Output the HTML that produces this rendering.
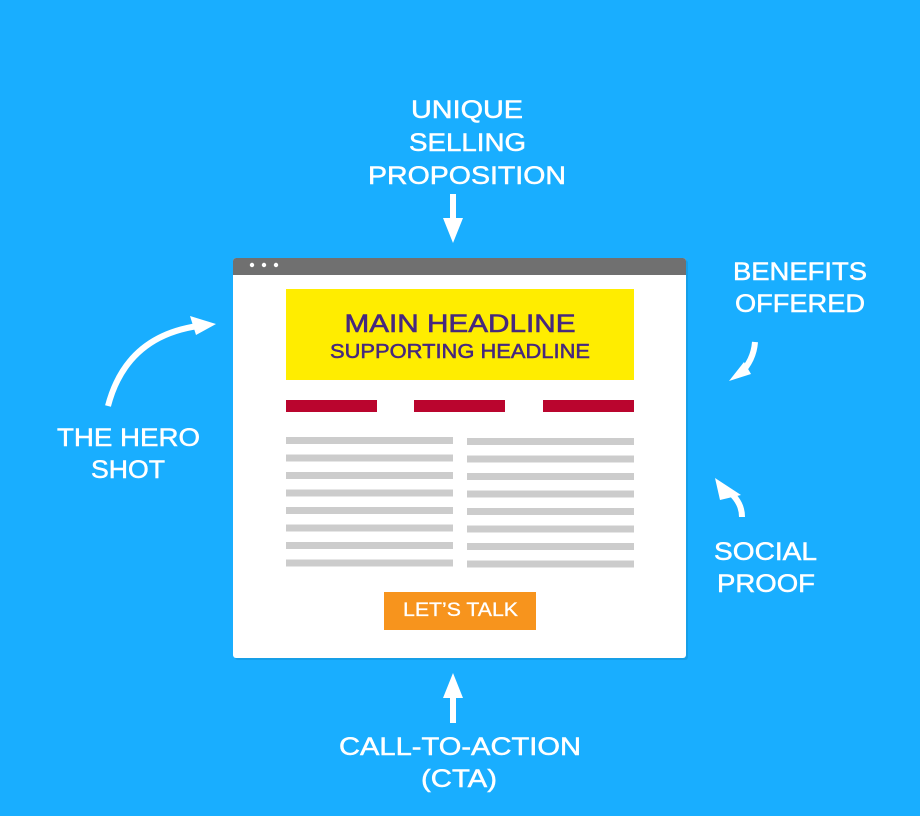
<!DOCTYPE html>
<html><head><meta charset="utf-8"><style>
html,body{margin:0;padding:0;background:#19AEFF;}
svg{display:block}
</style></head><body>
<svg width="920" height="816" viewBox="0 0 920 816" xmlns="http://www.w3.org/2000/svg" font-family="Liberation Sans, sans-serif">
<rect width="920" height="816" fill="#19AEFF"/>
<!-- browser -->
<rect x="235" y="260" width="453" height="400" rx="3" fill="#1590d0" opacity="0.5"/>
<rect x="233" y="258" width="453" height="400" rx="3" fill="#ffffff"/>
<path d="M233 275 V261 a3 3 0 0 1 3 -3 H683 a3 3 0 0 1 3 3 V275 Z" fill="#707070"/>
<circle cx="252" cy="265" r="2.2" fill="#fff"/>
<circle cx="264" cy="265" r="2.2" fill="#fff"/>
<circle cx="276" cy="265" r="2.2" fill="#fff"/>
<rect x="286" y="289" width="348" height="91" fill="#FFED00"/>
<g fill="#46287E" font-weight="bold" text-anchor="middle">
<text x="460" y="332" font-size="25" textLength="231" lengthAdjust="spacingAndGlyphs" font-weight="normal" stroke="#46287E" stroke-width="0.6">MAIN HEADLINE</text>
<text x="460" y="358" font-size="20" textLength="260" lengthAdjust="spacingAndGlyphs" font-weight="normal" stroke="#46287E" stroke-width="0.5">SUPPORTING HEADLINE</text>
</g>
<g fill="#BA052E">
<rect x="286" y="400" width="91" height="12"/>
<rect x="414" y="400" width="91" height="12"/>
<rect x="543" y="400" width="91" height="12"/>
</g>
<g fill="#CCCCCC">
<rect x="286" y="437" width="167" height="7"/><rect x="467" y="438" width="167" height="7"/>
<rect x="286" y="454.5" width="167" height="7"/><rect x="467" y="455.5" width="167" height="7"/>
<rect x="286" y="472" width="167" height="7"/><rect x="467" y="473" width="167" height="7"/>
<rect x="286" y="489.5" width="167" height="7"/><rect x="467" y="490.5" width="167" height="7"/>
<rect x="286" y="507" width="167" height="7"/><rect x="467" y="508" width="167" height="7"/>
<rect x="286" y="524.5" width="167" height="7"/><rect x="467" y="525.5" width="167" height="7"/>
<rect x="286" y="542" width="167" height="7"/><rect x="467" y="543" width="167" height="7"/>
<rect x="286" y="559.5" width="167" height="7"/><rect x="467" y="560.5" width="167" height="7"/>
</g>
<rect x="384" y="592" width="152" height="38" fill="#F7941D"/>
<text x="460.5" y="616" font-size="19" fill="#fff" text-anchor="middle" textLength="115" lengthAdjust="spacingAndGlyphs" stroke="#fff" stroke-width="0.3">LET’S TALK</text>
<!-- labels -->
<g fill="#fff" font-size="25" text-anchor="middle" stroke="#fff" stroke-width="0.5">
<text x="467" y="118" textLength="112" lengthAdjust="spacingAndGlyphs">UNIQUE</text>
<text x="467.5" y="151" textLength="117" lengthAdjust="spacingAndGlyphs">SELLING</text>
<text x="467" y="184" textLength="198" lengthAdjust="spacingAndGlyphs">PROPOSITION</text>
<text x="800" y="280" textLength="134" lengthAdjust="spacingAndGlyphs">BENEFITS</text>
<text x="800" y="312" textLength="130" lengthAdjust="spacingAndGlyphs">OFFERED</text>
<text x="128.5" y="446" textLength="143" lengthAdjust="spacingAndGlyphs">THE HERO</text>
<text x="128" y="478" textLength="74" lengthAdjust="spacingAndGlyphs">SHOT</text>
<text x="765.5" y="560" textLength="103" lengthAdjust="spacingAndGlyphs">SOCIAL</text>
<text x="766" y="592" textLength="98" lengthAdjust="spacingAndGlyphs">PROOF</text>
<text x="460" y="755" textLength="242" lengthAdjust="spacingAndGlyphs">CALL-TO-ACTION</text>
<text x="459" y="787" textLength="76" lengthAdjust="spacingAndGlyphs">(CTA)</text>
</g>
<!-- arrows -->
<g fill="#fff">
<rect x="450" y="194" width="6" height="28"/>
<polygon points="443,218 463,218 453,243"/>
<rect x="450" y="695" width="6" height="28"/>
<polygon points="443,698 463,698 453,673"/>
<polygon points="190,316 216,324 196,335"/>
<polygon points="744,362 729,381 751,374"/>
<polygon points="715,478 720,500 741,495"/>
</g>
<g fill="none" stroke="#fff" stroke-width="6">
<path d="M108 406 C120 360 150 333 198 326"/>
<path d="M755 342 C754 356 748 366 740 374"/>
<path d="M742 517 C742 507 738 500 730 492"/>
</g>
</svg>
</body></html>
